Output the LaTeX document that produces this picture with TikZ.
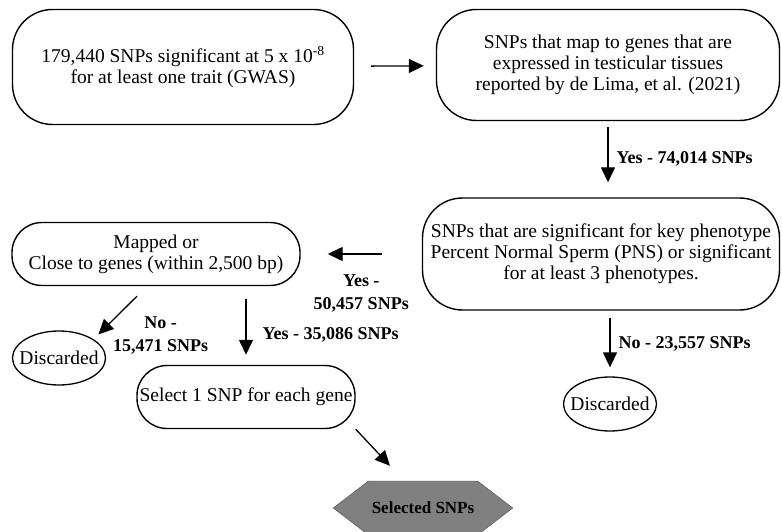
\documentclass[tikz,border=0pt]{standalone}
\usepackage{fontspec}
\setmainfont{Liberation Serif}
\usetikzlibrary{arrows.meta,positioning,shapes.geometric,shapes.symbols}
\definecolor{goalgray}{RGB}{128,128,128}

\begin{document}
\begin{tikzpicture}[
  x=1pt, y=-1pt,
  font=\fontsize{19.5}{21}\selectfont,
  comp/.style={draw, line width=1.4pt, rounded corners=#1, align=center, inner sep=2pt},
  comp/.default=40pt,
  stop/.style={draw, ellipse, line width=1.3pt, inner xsep=-8pt, inner ysep=2pt, minimum width=93pt, minimum height=54pt},
  goal/.style={draw=black!70, fill=goalgray, signal, signal to=west and east, signal pointer angle=75,
               minimum width=172pt, minimum height=54pt, font=\fontsize{17}{21}\selectfont\bfseries},
  arr/.style={-{Triangle[length=15pt, width=14pt]}, line width=1.3pt},
  lbl/.style={font=\fontsize{18}{23}\selectfont\bfseries, align=center, inner sep=2pt}
]
  \useasboundingbox (0,0) rectangle (782,532);

  % Top row
  \node[comp, minimum width=341pt, minimum height=115pt] (gwas) at (183,67)
    {179,440 SNPs significant at 5 x 10\textsuperscript{-8}\\for at least one trait (GWAS)};
  \node[comp, minimum width=343pt, minimum height=111pt] (testis) at (608,65)
    {SNPs that map to genes that are\\expressed in testicular tissues\\reported by de Lima, et al. (2021)};

  % Middle row
  \node[comp, minimum width=357pt, minimum height=112pt] (pheno) at (601,254)
    {SNPs that are significant for key phenotype\\Percent Normal Sperm (PNS) or significant\\for at least 3 phenotypes.};
  \node[comp=30pt, minimum width=288pt, minimum height=63pt] (mapped) at (156,254)
    {Mapped or\\Close to genes (within 2,500 bp)};

  % Discarded and selected
  \node[stop] (discL) at (59,358) {Discarded};
  \node[stop] (discR) at (610,404) {Discarded};
  \node[comp=30pt, minimum width=218pt, minimum height=63pt] (select) at (246,397)
    {Select 1 SNP for each gene};
  \node[goal] (snps) at (423,508) {Selected SNPs};

  % Arrows
  \draw[arr, shorten <=17pt, shorten >=12pt] (gwas) -- (testis);
  \draw[arr, shorten <=6pt, shorten >=15pt] (testis.south) -- (testis.south |- pheno.north)
    node[lbl, midway, right=6pt] {Yes - 74,014 SNPs};
  \draw[arr, shorten <=40pt, shorten >=27pt] (pheno.west) -- (mapped.east)
    node[lbl, midway, below=18pt] {Yes -\\50,457 SNPs};
  \draw[arr] ([xshift=-19pt,yshift=-10pt]mapped.south) -- ([xshift=6pt,yshift=4pt]discL.north east)
    node[lbl, pos=0.5, xshift=43pt, yshift=-20pt] {No -\\15,471 SNPs};
  \draw[arr, shorten <=13pt, shorten >=10pt] (mapped.south -| select.north) -- (select.north)
    node[lbl, pos=0.62, right=14pt] {Yes - 35,086 SNPs};
  \draw[arr] (select.south east) -- ([xshift=-33pt,yshift=15pt]snps.north);
  \draw[arr, shorten <=7pt, shorten >=9pt] (discR.north |- pheno.south) -- (discR.north)
    node[lbl, midway, right=6pt] {No - 23,557 SNPs};
\end{tikzpicture}
\end{document}
